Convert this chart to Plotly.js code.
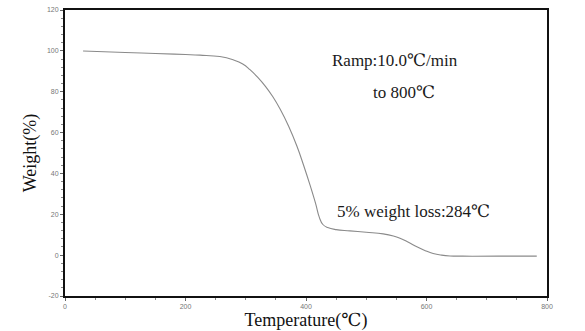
<!DOCTYPE html>
<html>
<head>
<meta charset="utf-8">
<script src="https://cdn.plot.ly/plotly-3.0.1.min.js"></script>
<style>html,body{margin:0;padding:0;background:#fff;}#chart{width:585px;height:331px;}</style>
</head>
<body>
<div id="chart"></div>
<script>
// TGA curve: temperature (°C) vs weight (%)
const temperature = [30, 100, 150, 200, 224, 257, 279, 295, 307, 320, 333, 345, 357, 371, 385, 396, 407, 416, 422, 428, 436, 450, 473, 500, 528, 545, 556, 570, 584, 598, 611, 625, 639, 660, 720, 783];
const weight      = [99.9, 99.2, 98.7, 98.2, 97.9, 97.2, 95.6, 93.6, 90.8, 87.0, 82.5, 77.5, 71.5, 63.2, 53.3, 44.0, 34.0, 25.2, 18.6, 15.0, 13.5, 12.5, 11.9, 11.2, 10.4, 9.4, 8.3, 6.3, 4.1, 2.2, 0.8, 0.0, -0.4, -0.5, -0.5, -0.5];

const xTickVals = [0, 200, 400, 600, 800];
const yTickVals = [-20, 0, 20, 40, 60, 80, 100, 120];

const annTexts = ["Ramp:10.0℃/min", "to 800℃", "5% weight loss:284℃"];
const annX = [548, 563, 578];
const annY = [95.4, 79.8, 21.5];

const serif = "Liberation Serif, Times New Roman, DejaVu Serif, serif";

const trace = {
  x: temperature, y: weight, type: 'scatter', mode: 'lines',
  line: {color: '#8a8a8a', width: 1.1, shape: 'spline', smoothing: 1.3},
  hoverinfo: 'skip'
};

const layout = {
  width: 585, height: 331,
  margin: {l: 65, r: 38, t: 10, b: 35},
  paper_bgcolor: '#fff', plot_bgcolor: '#fff',
  showlegend: false,
  xaxis: {
    range: [0, 800], tickvals: xTickVals, ticktext: xTickVals.map(String),
    ticks: 'outside', ticklen: 3, tickwidth: 1, tickcolor: '#666',
    minor: {dtick: 50, ticks: 'outside', ticklen: 2, tickcolor: '#888'},
    showgrid: false, zeroline: false,
    showline: true, linecolor: '#111', linewidth: 2, mirror: true,
    tickfont: {family: 'Liberation Sans, Arial, sans-serif', size: 7, color: '#777'},
    title: {text: 'Temperature(℃)', font: {family: serif, size: 18, color: '#111'}, standoff: 2}
  },
  yaxis: {
    range: [-20, 120], tickvals: yTickVals, ticktext: yTickVals.map(String),
    ticks: 'outside', ticklen: 3, tickwidth: 1, tickcolor: '#666',
    minor: {dtick: 4, ticks: 'outside', ticklen: 2, tickcolor: '#888'},
    showgrid: false, zeroline: false,
    showline: true, linecolor: '#111', linewidth: 2, mirror: true,
    tickfont: {family: 'Liberation Sans, Arial, sans-serif', size: 7, color: '#777'},
    title: {text: 'Weight(%)', font: {family: serif, size: 18, color: '#111'}, standoff: 6}
  },
  annotations: annTexts.map((t, i) => ({
    x: annX[i], y: annY[i], xref: 'x', yref: 'y', text: t, showarrow: false,
    font: {family: serif, size: 17, color: '#1a1a1a'}, xanchor: 'center', yanchor: 'middle'
  }))
};

Plotly.newPlot('chart', [trace], layout, {displayModeBar: false, staticPlot: true});
</script>
</body>
</html>
